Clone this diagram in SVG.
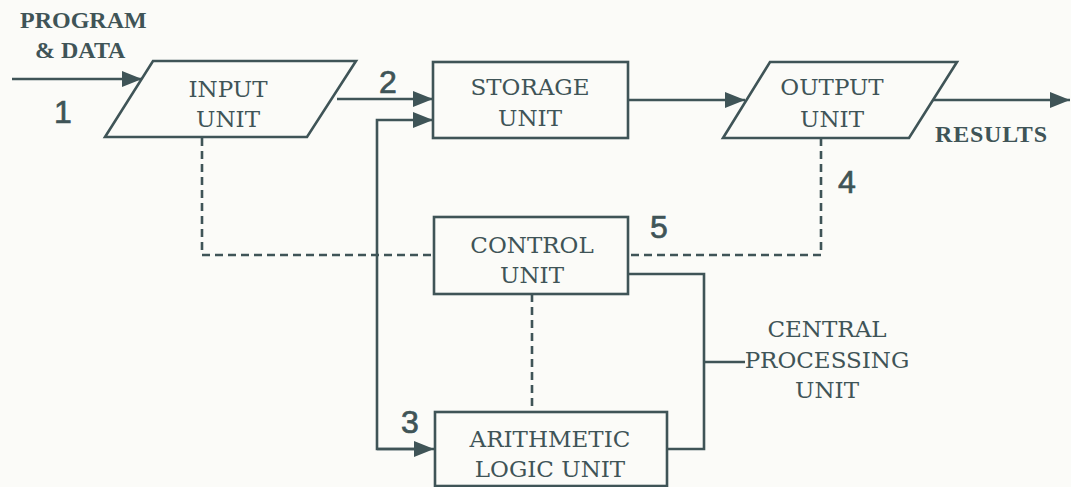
<svg xmlns="http://www.w3.org/2000/svg" width="1071" height="487" viewBox="0 0 1071 487">
<style>
.bg{fill:#fbfbf8}
.shape{fill:none;stroke:#3f5457;stroke-width:2.6}
.line{fill:none;stroke:#3f5457;stroke-width:2.6}
.dash{fill:none;stroke:#3f5457;stroke-width:2.6;stroke-dasharray:8 5}
.lbl{font-family:"DejaVu Serif",serif;font-size:23px;fill:#3f5457;text-anchor:middle}
.bold{font-family:"Liberation Serif","Times New Roman",serif;font-weight:bold;font-size:24px;fill:#3f5457}
.num{font-family:"Liberation Sans",Arial,sans-serif;font-size:32px;fill:#3f5457;stroke:#3f5457;stroke-width:0.7}
</style>
<defs>
<marker id="ah" viewBox="0 0 20 16" refX="20" refY="8" markerWidth="20" markerHeight="16" markerUnits="userSpaceOnUse" orient="auto">
<path d="M0,0 L20,8 L0,16 Z" fill="#3f5457"/>
</marker>
</defs>
<rect class="bg" x="0" y="0" width="1071" height="487"/>

<g id="connectors">
<path class="line" d="M12,79 L142,79" marker-end="url(#ah)"/>
<path class="line" d="M337,99 L433,99" marker-end="url(#ah)"/>
<path class="line" d="M422,449 L377,449 L377,120 L433,120" marker-end="url(#ah)"/>
<path class="line" d="M377,449 L434,449" marker-end="url(#ah)"/>
<path class="line" d="M628,100 L745,100" marker-end="url(#ah)"/>
<path class="line" d="M933,100 L1070,100" marker-end="url(#ah)"/>
<path class="dash" d="M202,138 L202,255 L434,255"/>
<path class="dash" d="M821,138 L821,255 L628,255"/>
<path class="dash" d="M532,294 L532,412"/>
<path class="line" d="M628,274 L704,274 L704,449 L667,449"/>
<path class="line" d="M704,362 L745,362"/>
</g>

<g id="input-unit">
<polygon class="shape" points="153,61 356,61 307,137 105,137"/>
<text class="lbl" x="228" y="97">INPUT</text>
<text class="lbl" x="228" y="127">UNIT</text>
</g>

<g id="storage-unit">
<rect class="shape" x="433" y="62" width="195" height="76"/>
<text class="lbl" x="530" y="95">STORAGE</text>
<text class="lbl" x="530" y="126">UNIT</text>
</g>

<g id="output-unit">
<polygon class="shape" points="770,62 957,62 909,138 723,138"/>
<text class="lbl" x="832" y="95">OUTPUT</text>
<text class="lbl" x="832" y="127">UNIT</text>
</g>

<g id="control-unit">
<rect class="shape" x="434" y="217" width="194" height="77"/>
<text class="lbl" x="532" y="253">CONTROL</text>
<text class="lbl" x="532" y="283">UNIT</text>
</g>

<g id="alu">
<rect class="shape" x="435" y="412" width="232" height="74"/>
<text class="lbl" x="550" y="447">ARITHMETIC</text>
<text class="lbl" x="550" y="477">LOGIC UNIT</text>
</g>

<g id="cpu-label">
<text class="lbl" x="827" y="337">CENTRAL</text>
<text class="lbl" x="827" y="368">PROCESSING</text>
<text class="lbl" x="827" y="398">UNIT</text>
</g>

<g id="labels">
<text class="bold" x="20" y="28">PROGRAM</text>
<text class="bold" x="35" y="58">&amp; DATA</text>
<text class="bold" x="935" y="142" textLength="112">RESULTS</text>
<text class="num" x="54" y="123">1</text>
<text class="num" x="379" y="93">2</text>
<text class="num" x="401" y="433">3</text>
<text class="num" x="838" y="193">4</text>
<text class="num" x="650" y="238">5</text>
</g>
</svg>
